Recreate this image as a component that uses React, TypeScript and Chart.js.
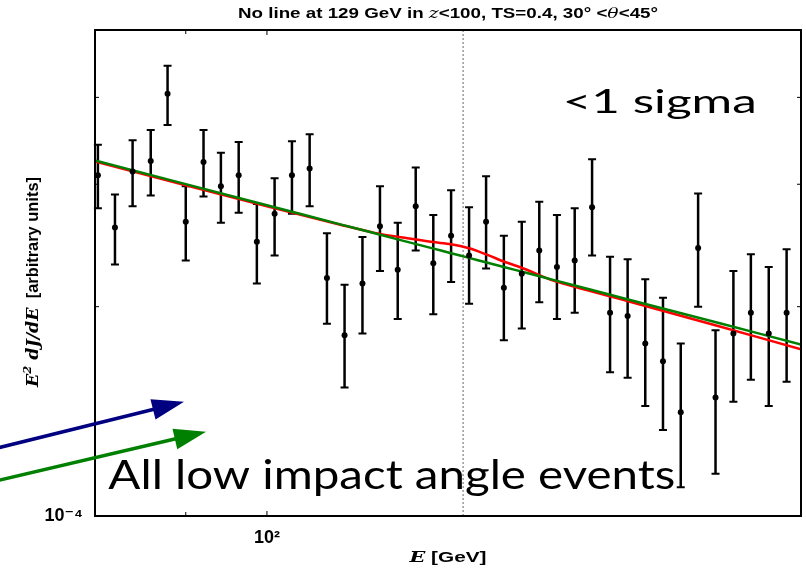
import { useEffect, useRef } from 'react';
import { Chart, registerables } from 'chart.js';

Chart.register(...registerables);

// Energy bin centres [GeV]
const binEnergy = [
  80.3, 82.1, 84.0, 86.0, 87.9, 90.0, 92.1, 94.2, 96.4, 98.7,
  101.0, 103.3, 105.7, 108.1, 110.6, 113.2, 115.8, 118.5, 121.3, 124.1,
  127.0, 130.0, 132.9, 136.0, 139.2, 142.4, 145.7, 149.1, 152.5, 156.1,
  159.7, 163.4, 167.2, 171.1, 175.0, 179.0, 183.2, 187.4, 191.8, 196.3,
];
// E^2 dJ/dE per bin, in units of 1e-4
const binFlux = [
  3.09, 2.60, 3.13, 3.24, 4.05, 2.65, 3.23, 2.98, 3.09, 2.48,
  2.72, 3.09, 3.16, 2.20, 1.82, 2.16, 2.61, 2.26, 2.79, 2.31,
  2.53, 2.37, 2.65, 2.13, 2.23, 2.41, 2.28, 2.33, 2.78, 1.96,
  1.94, 1.77, 1.67, 1.41, 2.43, 1.48, 1.83, 1.96, 1.83, 1.96,
];
// upper end of each error bar
const binFluxHigh = [
  3.42, 2.90, 3.47, 3.59, 4.44, 2.98, 3.59, 3.33, 3.45, 2.81,
  3.06, 3.46, 3.54, 2.55, 2.15, 2.52, 2.98, 2.64, 3.17, 2.71,
  2.94, 2.78, 3.08, 2.53, 2.65, 2.83, 2.71, 2.77, 3.26, 2.36,
  2.34, 2.19, 2.06, 1.77, 2.91, 1.85, 2.25, 2.38, 2.28, 2.42,
];
// lower end of each error bar
const binFluxLow = [
  2.77, 2.30, 2.79, 2.89, 3.65, 2.33, 2.88, 2.64, 2.73, 2.16,
  2.37, 2.72, 2.79, 1.89, 1.53, 1.83, 2.25, 1.92, 2.41, 1.95,
  2.17, 2.02, 2.27, 1.79, 1.86, 2.03, 1.92, 1.96, 2.37, 1.61,
  1.58, 1.44, 1.33, 1.10, 2.00, 1.15, 1.46, 1.57, 1.44, 1.56,
];

// Fitted models sampled on a common energy grid
const modelEnergy = [80, 100, 110, 115, 120, 124, 127, 130, 133, 136, 140, 145, 160, 180, 200];
const modelWithLine = [3.235, 2.789, 2.624, 2.554, 2.508, 2.477, 2.460, 2.427, 2.377, 2.323, 2.262, 2.181, 2.035, 1.873, 1.737];
const modelNoLine = [3.246, 2.798, 2.627, 2.550, 2.479, 2.426, 2.387, 2.351, 2.315, 2.281, 2.238, 2.186, 2.047, 1.893, 1.765];

const FLUX_UNIT = 1e-4;
const lineEnergy = 129;

const xLimits = [80, 200];
const yLimits = [1, 5];
const xTickMarks = [90, 100, 200];
const xMajorTicks = [100];
const yTickMarks = [2, 3, 4];

// Arrow annotations: [tailE, tailFlux, tipE, tipFlux]
const blueArrow = [70, 1.247, 89.8, 1.460];
const greenArrow = [70, 1.120, 92.4, 1.322];

const SANS = '"Liberation Sans", "DejaVu Sans", sans-serif';
const SERIF = '"DejaVu Serif", serif';

type Seg = { text: string; font: string; rise?: number };

function drawRich(ctx: CanvasRenderingContext2D, segs: Seg[], x: number, y: number, width: number, align: 'left' | 'center') {
  let natural = 0;
  const widths = segs.map((s) => {
    ctx.font = s.font;
    const w = ctx.measureText(s.text).width;
    natural += w;
    return w;
  });
  const sx = width / natural;
  ctx.save();
  ctx.translate(align === 'center' ? x - width / 2 : x, y);
  ctx.scale(sx, 1);
  ctx.textAlign = 'left';
  ctx.textBaseline = 'alphabetic';
  ctx.fillStyle = '#000';
  let cx = 0;
  segs.forEach((s, i) => {
    ctx.font = s.font;
    ctx.fillText(s.text, cx, -(s.rise ?? 0));
    cx += widths[i];
  });
  ctx.restore();
}

function drawArrow(ctx: CanvasRenderingContext2D, x0: number, y0: number, x1: number, y1: number, color: string) {
  const headLen = 32;
  const headHalf = 10.5;
  const ang = Math.atan2(y1 - y0, x1 - x0);
  const c = Math.cos(ang);
  const s = Math.sin(ang);
  const bx = x1 - headLen * c;
  const by = y1 - headLen * s;
  ctx.save();
  ctx.strokeStyle = color;
  ctx.fillStyle = color;
  ctx.lineWidth = 3.5;
  ctx.beginPath();
  ctx.moveTo(x0, y0);
  ctx.lineTo(bx + 2 * c, by + 2 * s);
  ctx.stroke();
  ctx.beginPath();
  ctx.moveTo(x1, y1);
  ctx.lineTo(bx + headHalf * s, by - headHalf * c);
  ctx.lineTo(bx - headHalf * s, by + headHalf * c);
  ctx.closePath();
  ctx.fill();
  ctx.restore();
}

const decorations = {
  id: 'decorations',
  beforeDatasetsDraw(chart: any) {
    const { ctx, chartArea: a, scales } = chart;
    const xs = scales.x;
    const ys = scales.y;
    // vertical dotted marker at the tested line energy
    const lx = xs.getPixelForValue(lineEnergy);
    ctx.save();
    ctx.strokeStyle = '#a0a0a0';
    ctx.lineWidth = 1.6;
    ctx.setLineDash([2, 2]);
    ctx.beginPath();
    ctx.moveTo(lx, a.top);
    ctx.lineTo(lx, a.bottom);
    ctx.stroke();
    ctx.restore();
    // error bars
    ctx.save();
    ctx.strokeStyle = '#000';
    binEnergy.forEach((e, i) => {
      const x = xs.getPixelForValue(e);
      const yt = ys.getPixelForValue(binFluxHigh[i] * FLUX_UNIT);
      const yb = ys.getPixelForValue(binFluxLow[i] * FLUX_UNIT);
      ctx.lineWidth = 2.5;
      ctx.beginPath();
      ctx.moveTo(x, yt);
      ctx.lineTo(x, yb);
      ctx.stroke();
      ctx.lineWidth = 2;
      ctx.beginPath();
      ctx.moveTo(x - 4, yt);
      ctx.lineTo(x + 4, yt);
      ctx.moveTo(x - 4, yb);
      ctx.lineTo(x + 4, yb);
      ctx.stroke();
    });
    ctx.restore();
  },
  afterDatasetsDraw(chart: any) {
    const { ctx, chartArea: a, scales } = chart;
    const xs = scales.x;
    const ys = scales.y;
    ctx.save();
    ctx.strokeStyle = '#000';
    ctx.lineWidth = 1;
    // inward ticks on all four sides
    xTickMarks.forEach((v) => {
      const x = xs.getPixelForValue(v);
      const len = xMajorTicks.includes(v) ? 5 : 4;
      ctx.beginPath();
      ctx.moveTo(x, a.bottom);
      ctx.lineTo(x, a.bottom - len);
      ctx.moveTo(x, a.top);
      ctx.lineTo(x, a.top + len);
      ctx.stroke();
    });
    yTickMarks.forEach((v) => {
      const y = ys.getPixelForValue(v * FLUX_UNIT);
      ctx.beginPath();
      ctx.moveTo(a.left, y);
      ctx.lineTo(a.left + 4, y);
      ctx.moveTo(a.right, y);
      ctx.lineTo(a.right - 4, y);
      ctx.stroke();
    });
    // axes frame
    ctx.lineWidth = 2;
    ctx.strokeRect(a.left, a.top, a.right - a.left, a.bottom - a.top);
    ctx.restore();
  },
  afterDraw(chart: any) {
    const { ctx, chartArea: a, scales } = chart;
    const xs = scales.x;
    const ys = scales.y;
    const cx = (a.left + a.right) / 2;

    // title
    drawRich(ctx, [
      { text: 'No line at 129 GeV in ', font: `bold 15px ${SANS}` },
      { text: 'z', font: `italic 15px ${SERIF}` },
      { text: '<100, TS=0.4, 30° <', font: `bold 15px ${SANS}` },
      { text: 'θ', font: `italic 15px ${SERIF}` },
      { text: '<45°', font: `bold 15px ${SANS}` },
    ], cx, 18, 420, 'center');

    // x-axis title
    drawRich(ctx, [
      { text: 'E', font: `italic bold 15px ${SERIF}` },
      { text: ' [GeV]', font: `bold 15px ${SANS}` },
    ], cx, 562, 77, 'center');

    // y-axis title
    ctx.save();
    ctx.translate(38, 282);
    ctx.rotate(-Math.PI / 2);
    drawRich(ctx, [
      { text: 'E', font: `italic bold 17px ${SERIF}` },
      { text: '2', font: `italic bold 11px ${SERIF}`, rise: 7 },
      { text: ' dJ/dE', font: `italic bold 17px ${SERIF}` },
      { text: '  [arbitrary units]', font: `bold 16px ${SANS}` },
    ], 0, 0, 210, 'center');
    ctx.restore();

    // annotations
    drawRich(ctx, [{ text: '<1 sigma', font: `33px Lato, ${SANS}` }],
      xs.getPixelForValue(146.8), ys.getPixelForValue(3.795 * FLUX_UNIT), 194, 'left');
    drawRich(ctx, [{ text: 'All low impact angle events', font: `41px Lato, ${SANS}` }],
      xs.getPixelForValue(81.4), ys.getPixelForValue(1.092 * FLUX_UNIT), 567, 'left');

    const arrow = (p: number[], color: string) =>
      drawArrow(ctx,
        xs.getPixelForValue(p[0]), ys.getPixelForValue(p[1] * FLUX_UNIT),
        xs.getPixelForValue(p[2]), ys.getPixelForValue(p[3] * FLUX_UNIT), color);
    arrow(blueArrow, '#000080');
    arrow(greenArrow, '#008000');
  },
};

export default function App() {
  const ref = useRef<HTMLCanvasElement>(null);

  useEffect(() => {
    const points = binEnergy.map((e, i) => ({ x: e, y: binFlux[i] * FLUX_UNIT }));
    const red = modelEnergy.map((e, i) => ({ x: e, y: modelWithLine[i] * FLUX_UNIT }));
    const green = modelEnergy.map((e, i) => ({ x: e, y: modelNoLine[i] * FLUX_UNIT }));

    const chart = new Chart(ref.current as HTMLCanvasElement, {
      type: 'scatter',
      data: {
        datasets: [
          {
            data: points,
            order: 0,
            pointRadius: 3,
            pointBackgroundColor: '#000',
            pointBorderColor: '#000',
            pointBorderWidth: 0,
          },
          {
            data: green,
            order: 1,
            showLine: true,
            pointRadius: 0,
            borderColor: '#008000',
            borderWidth: 2.5,
            tension: 0.3,
          },
          {
            data: red,
            order: 2,
            showLine: true,
            pointRadius: 0,
            borderColor: '#ff0000',
            borderWidth: 2.5,
            tension: 0.3,
          },
        ],
      } as any,
      options: {
        animation: false,
        responsive: false,
        devicePixelRatio: 1,
        events: [],
        layout: { padding: { top: 30, right: 5, bottom: 0, left: 0 } },
        plugins: {
          legend: { display: false },
          tooltip: { enabled: false },
          title: { display: false },
        },
        scales: {
          x: {
            type: 'logarithmic',
            min: xLimits[0],
            max: xLimits[1],
            grid: { display: false, drawTicks: false },
            border: { display: false },
            ticks: {
              autoSkip: false,
              maxRotation: 0,
              padding: 11,
              color: '#000',
              font: { family: SANS, size: 18, weight: 'bold' },
              callback: (v: any) => (Math.abs(Number(v) - 100) < 1e-6 ? '10²' : ''),
            },
            afterFit: (s: any) => {
              s.height = 53;
              s.paddingLeft = 0;
              s.paddingRight = 0;
            },
          },
          y: {
            type: 'logarithmic',
            min: yLimits[0] * FLUX_UNIT,
            max: yLimits[1] * FLUX_UNIT,
            grid: { display: false, drawTicks: false },
            border: { display: false },
            ticks: {
              autoSkip: false,
              padding: 12,
              color: '#000',
              font: { family: SANS, size: 18, weight: 'bold' },
              callback: (v: any) => (Math.abs(Number(v) - FLUX_UNIT) < 1e-10 ? '10⁻⁴' : ''),
            },
            afterFit: (s: any) => {
              s.width = 95;
              s.paddingTop = 0;
              s.paddingBottom = 0;
            },
          },
        },
      } as any,
      plugins: [decorations],
    });
    return () => chart.destroy();
  }, []);

  return (
    <div style={{ position: 'fixed', left: 0, top: 0, width: 806, height: 569, background: '#fff' }}>
      <canvas ref={ref} width={806} height={569} style={{ display: 'block', width: 806, height: 569 }} />
    </div>
  );
}
